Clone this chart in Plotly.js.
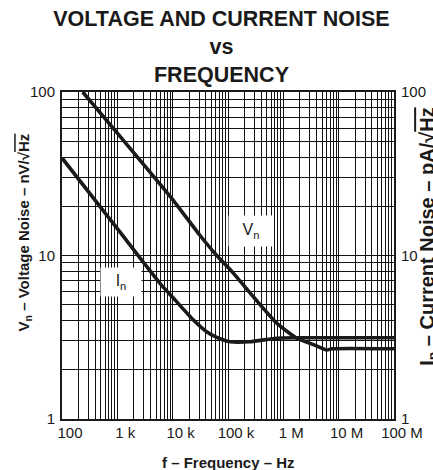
<!DOCTYPE html>
<html>
<head>
<meta charset="utf-8">
<script src="https://cdn.plot.ly/plotly-3.0.1.min.js"></script>
<style>html,body{margin:0;padding:0;background:#fff;}#chart{width:433px;height:470px;}</style>
</head>
<body>
<div id="chart"></div>
<script>
// Voltage noise Vn (nV/sqrt(Hz)) vs frequency (Hz)
var freqV = [237, 1000, 10000, 31000, 62700, 117000, 300000, 763000, 1750000, 3500000, 6100000, 7600000, 100000000];
var noiseV = [100, 56, 22, 13.3, 10.0, 8.0, 5.5, 3.85, 3.12, 2.85, 2.64, 2.69, 2.69];
// Current noise In (pA/sqrt(Hz)) vs frequency (Hz)
var freqI = [100, 1000, 5900, 11000, 23700, 41000, 62700, 110000, 251000, 760000, 1750000, 100000000];
var noiseI = [39.5, 14.6, 6.76, 5.35, 4.03, 3.42, 3.16, 2.97, 2.97, 3.12, 3.14, 3.14];

var xTickVals = [100, 1000, 10000, 100000, 1000000, 10000000, 100000000];
var xTickText = ["100", "1 k", "10 k", "100 k", "1 M", "10 M", "100 M"];
var yTickVals = [1, 10, 100];
var yTickText = ["1", "10", "100"];
var mantissas = [2, 3, 4, 5, 6, 7, 8, 9];

// full grid = decades + minor 2..9
var xGrid = [], xGridText = [];
for (var d = 2; d <= 8; d++) {
  var b = Math.pow(10, d);
  xGrid.push(b); xGridText.push(xTickText[d - 2]);
  if (d < 8) mantissas.forEach(function (m) { xGrid.push(m * b); xGridText.push(""); });
}
var yGrid = [], yGridText = [];
for (var e = 0; e <= 2; e++) {
  var c = Math.pow(10, e);
  yGrid.push(c); yGridText.push(yTickText[e]);
  if (e < 2) mantissas.forEach(function (m) { yGrid.push(m * c); yGridText.push(""); });
}

var FONT = "Liberation Sans, Arial, sans-serif";
var INK = "#1a1a1a";

var traces = [
  {x: freqV, y: noiseV, type: "scatter", mode: "lines", line: {color: INK, width: 3.6, shape: "spline", smoothing: 0.5}, hoverinfo: "skip"},
  {x: freqI, y: noiseI, type: "scatter", mode: "lines", line: {color: INK, width: 3.6, shape: "spline", smoothing: 0.5}, hoverinfo: "skip"},
  {x: [100], y: [1], yaxis: "y2", type: "scatter", mode: "markers", marker: {opacity: 0}, hoverinfo: "skip"}
];

var layout = {
  width: 433, height: 470,
  margin: {l: 62, r: 39, t: 92, b: 51, pad: 0},
  paper_bgcolor: "#fff", plot_bgcolor: "#fff",
  showlegend: false,
  font: {family: FONT, color: INK, size: 15},
  title: {
    text: "VOLTAGE AND CURRENT NOISE<br>vs<br>FREQUENCY",
    font: {family: FONT, size: 21.5, weight: "bold", color: INK},
    x: 0.5115, xanchor: "center", xref: "container",
    y: 0.945, yanchor: "top", yref: "container"
  },
  xaxis: {
    type: "log", range: [2, 8],
    tickmode: "array", tickvals: xGrid, ticktext: xGridText,
    ticks: "", ticklabelstandoff: -1, ticklabelshift: 8, tickangle: 0,
    tickfont: {family: FONT, size: 15, color: INK},
    showgrid: true, gridcolor: "#111", gridwidth: 1,
    showline: true, linecolor: INK, linewidth: 2, mirror: true,
    zeroline: false, fixedrange: true
  },
  yaxis: {
    type: "log", range: [0, 2],
    tickmode: "array", tickvals: yGrid, ticktext: yGridText,
    ticks: "", ticklabelstandoff: 2,
    tickfont: {family: FONT, size: 15, color: INK},
    showgrid: true, gridcolor: "#111", gridwidth: 1,
    showline: true, linecolor: INK, linewidth: 2, mirror: true,
    zeroline: false, fixedrange: true
  },
  yaxis2: {
    type: "log", range: [0, 2], overlaying: "y", side: "right",
    tickmode: "array", tickvals: yTickVals, ticktext: yTickText,
    ticks: "", ticklabelstandoff: 6,
    tickfont: {family: FONT, size: 15, color: INK},
    showgrid: false, showline: false, zeroline: false, fixedrange: true
  },
  annotations: [
    {xref: "x", yref: "y", x: Math.log10(2.6e5), y: Math.log10(14.2), text: "V<sub>n</sub>",
     showarrow: false, bgcolor: "#fff", width: 42, height: 28, font: {family: FONT, size: 16, color: INK}},
    {xref: "x", yref: "y", x: Math.log10(1170), y: Math.log10(6.9), text: "I<sub>n</sub>",
     showarrow: false, bgcolor: "#fff", width: 38, height: 26, font: {family: FONT, size: 16, color: INK}},
    {xref: "paper", yref: "paper", x: -0.112, y: 0.57, xanchor: "center", yanchor: "middle",
     text: "V<sub>n</sub> – Voltage Noise – nV/√<span style='text-decoration:overline'>Hz</span>",
     textangle: -90, showarrow: false, font: {family: FONT, size: 15, weight: "bold", color: INK}},
    {xref: "paper", yref: "paper", x: 1.0, xshift: 35, y: 0.557, xanchor: "center", yanchor: "middle",
     text: "I<sub>n</sub> – Current Noise – pA/√<span style='text-decoration:overline'>Hz</span>",
     textangle: -90, showarrow: false, font: {family: FONT, size: 20, weight: "bold", color: INK}},
    {xref: "paper", yref: "paper", x: 0.5, y: 0, yshift: -43, xanchor: "center", yanchor: "middle",
     text: "f – Frequency – Hz", showarrow: false,
     font: {family: FONT, size: 15, weight: "bold", color: INK}}
  ]
};

Plotly.newPlot("chart", traces, layout, {staticPlot: true, displayModeBar: false});
</script>
</body>
</html>
